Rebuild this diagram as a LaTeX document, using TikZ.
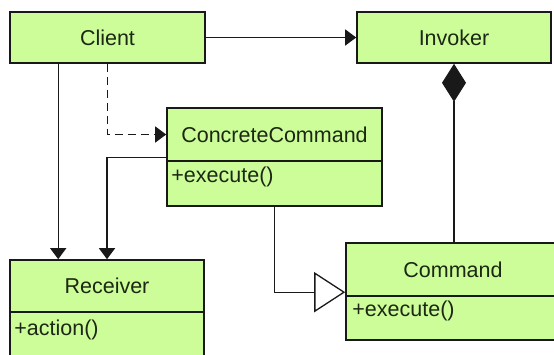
\documentclass[tikz,border=0pt]{standalone}
\usepackage{fontspec}
\setmainfont{Liberation Sans}
\usetikzlibrary{arrows.meta}

\definecolor{umlgreen}{RGB}{204,253,153}
\definecolor{umltext}{RGB}{28,40,20}

\begin{document}
\begin{tikzpicture}[x=1pt,y=-1pt,>={Triangle[length=11pt,width=16pt]},
  classbox/.style={draw=black!90, fill=umlgreen, line width=1.6pt, text=umltext,
    font=\fontsize{21.5}{26}\selectfont, inner sep=0pt},
  optext/.style={anchor=base west, text=umltext, inner sep=0pt,
    font=\fontsize{21.5}{26}\selectfont},
  link/.style={line width=1.3pt, black!90}]

  \useasboundingbox (0,0) rectangle (554,354);
  \clip (0,0) rectangle (554,354);

%%%%%%%%%%%%%%%%%%%%%%%%%%%%%%%%%%%%%%%%%%
  % Classes
  \begin{scope}
    % Top row
    \node[classbox, minimum width=195pt, minimum height=51pt] (client) at (107.5,37.5) {Client};
    \node[classbox, minimum width=194pt, minimum height=51pt] (invoker) at (454,37.5) {Invoker};

    % ConcreteCommand
    \node[classbox, minimum width=215pt, minimum height=53pt] (cchead) at (274.5,134.5) {ConcreteCommand};
    \node[classbox, minimum width=215pt, minimum height=45pt] (ccops) at (274.5,183.5) {};
    \node[optext] (ccexec) at ([xshift=5pt,yshift=-22pt]ccops.north west) {+execute()};

    % Receiver
    \node[classbox, minimum width=194pt, minimum height=52pt] (recv) at (107,286) {Receiver};
    \node[classbox, minimum width=194pt, minimum height=58pt] (recvops) at (107,341) {};
    \node[optext] (recvact) at ([xshift=5pt,yshift=-24pt]recvops.north west) {+action()};

    % Command
    \node[classbox, minimum width=214pt, minimum height=53pt] (cmdhead) at (453,269.5) {Command};
    \node[classbox, minimum width=214pt, minimum height=44pt] (cmdops) at (453,318) {};
    \node[optext] (cmdexec) at ([xshift=7pt,yshift=-21pt]cmdops.north west) {+execute()};
  \end{scope}

  % Associations
  \draw[link,->] (client) -- (invoker);
  \draw[link,->] ([xshift=49pt]client.south west) -- ([xshift=49pt]recv.north west);
  \draw[link,->] ([yshift=4pt]cchead.south west) -| (recv.north);
  \draw[link,->,dashed,dash pattern=on 8pt off 5pt] (client.south) |- (cchead.west);

  % Generalization
  \draw[link,-{Triangle[open,length=31pt,width=40pt,fill=white]}]
    (ccops.south) |- ([yshift=3pt]cmdops.north west);

  % Aggregation
  \draw[link,{Diamond[length=38pt,width=24pt]}-] (invoker.south) -- (invoker.south |- cmdhead.north);

\end{tikzpicture}
\end{document}
